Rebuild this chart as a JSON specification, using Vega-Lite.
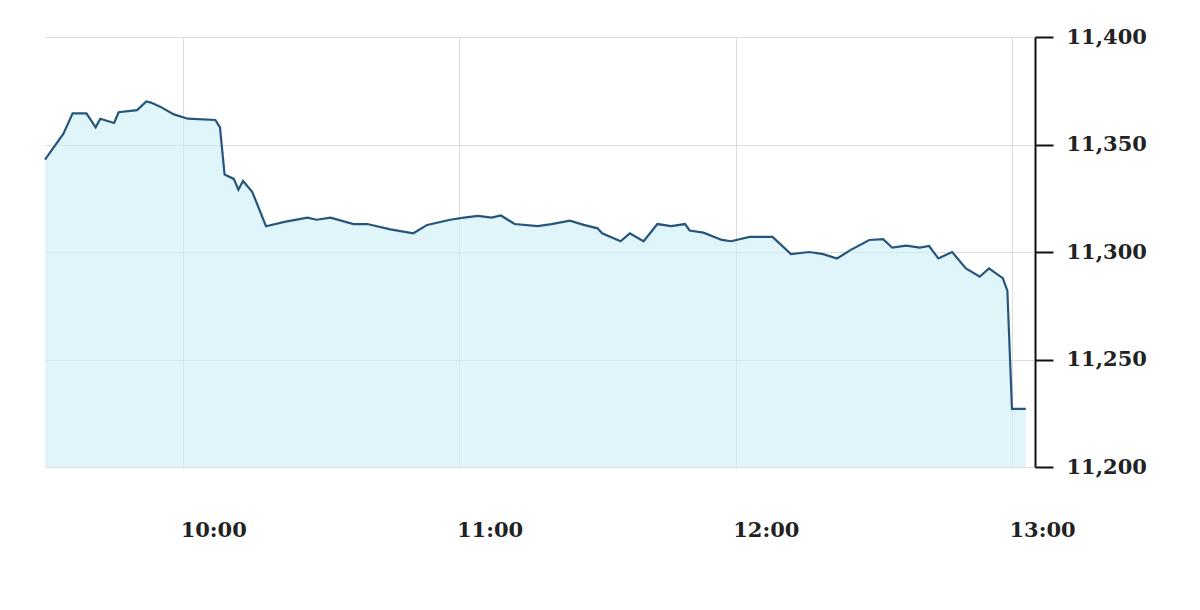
{
  "$schema": "https://vega.github.io/schema/vega-lite/v6.json",
  "autosize": "none",
  "width": 990,
  "height": 430,
  "padding": {"left": 45, "top": 37, "right": 165, "bottom": 143},
  "background": "white",
  "config": {"view": {"stroke": null}},
  "data": {"values": [
    {"t": "2020-01-01T09:30:00", "v": 11343},
    {"t": "2020-01-01T09:34:00", "v": 11355},
    {"t": "2020-01-01T09:36:00", "v": 11364.5},
    {"t": "2020-01-01T09:39:00", "v": 11364.5},
    {"t": "2020-01-01T09:41:00", "v": 11358},
    {"t": "2020-01-01T09:42:00", "v": 11362},
    {"t": "2020-01-01T09:45:00", "v": 11360},
    {"t": "2020-01-01T09:46:00", "v": 11365},
    {"t": "2020-01-01T09:50:00", "v": 11366},
    {"t": "2020-01-01T09:52:00", "v": 11370},
    {"t": "2020-01-01T09:53:00", "v": 11369.5},
    {"t": "2020-01-01T09:55:00", "v": 11367.6},
    {"t": "2020-01-01T09:58:00", "v": 11364},
    {"t": "2020-01-01T10:01:00", "v": 11362},
    {"t": "2020-01-01T10:07:00", "v": 11361.4},
    {"t": "2020-01-01T10:08:00", "v": 11358},
    {"t": "2020-01-01T10:09:00", "v": 11336},
    {"t": "2020-01-01T10:11:00", "v": 11334},
    {"t": "2020-01-01T10:12:00", "v": 11329},
    {"t": "2020-01-01T10:13:00", "v": 11333},
    {"t": "2020-01-01T10:15:00", "v": 11328},
    {"t": "2020-01-01T10:18:00", "v": 11312},
    {"t": "2020-01-01T10:22:00", "v": 11314},
    {"t": "2020-01-01T10:27:00", "v": 11316},
    {"t": "2020-01-01T10:29:00", "v": 11315},
    {"t": "2020-01-01T10:32:00", "v": 11316},
    {"t": "2020-01-01T10:37:00", "v": 11313},
    {"t": "2020-01-01T10:40:00", "v": 11313},
    {"t": "2020-01-01T10:45:00", "v": 11310.5},
    {"t": "2020-01-01T10:50:00", "v": 11308.7},
    {"t": "2020-01-01T10:53:00", "v": 11312.6},
    {"t": "2020-01-01T10:58:00", "v": 11315},
    {"t": "2020-01-01T11:01:00", "v": 11316},
    {"t": "2020-01-01T11:04:00", "v": 11316.8},
    {"t": "2020-01-01T11:07:00", "v": 11316},
    {"t": "2020-01-01T11:09:00", "v": 11317},
    {"t": "2020-01-01T11:12:00", "v": 11313},
    {"t": "2020-01-01T11:17:00", "v": 11312},
    {"t": "2020-01-01T11:20:00", "v": 11313},
    {"t": "2020-01-01T11:24:00", "v": 11314.6},
    {"t": "2020-01-01T11:27:00", "v": 11312.6},
    {"t": "2020-01-01T11:30:00", "v": 11311},
    {"t": "2020-01-01T11:31:00", "v": 11308.7},
    {"t": "2020-01-01T11:35:00", "v": 11305},
    {"t": "2020-01-01T11:37:00", "v": 11308.7},
    {"t": "2020-01-01T11:40:00", "v": 11305},
    {"t": "2020-01-01T11:43:00", "v": 11313},
    {"t": "2020-01-01T11:46:00", "v": 11312},
    {"t": "2020-01-01T11:49:00", "v": 11313},
    {"t": "2020-01-01T11:50:00", "v": 11310},
    {"t": "2020-01-01T11:53:00", "v": 11309},
    {"t": "2020-01-01T11:57:00", "v": 11305.6},
    {"t": "2020-01-01T11:59:00", "v": 11305},
    {"t": "2020-01-01T12:03:00", "v": 11307},
    {"t": "2020-01-01T12:08:00", "v": 11307},
    {"t": "2020-01-01T12:12:00", "v": 11299},
    {"t": "2020-01-01T12:16:00", "v": 11300},
    {"t": "2020-01-01T12:19:00", "v": 11299},
    {"t": "2020-01-01T12:22:00", "v": 11297},
    {"t": "2020-01-01T12:25:00", "v": 11301},
    {"t": "2020-01-01T12:29:00", "v": 11305.6},
    {"t": "2020-01-01T12:32:00", "v": 11306},
    {"t": "2020-01-01T12:34:00", "v": 11302},
    {"t": "2020-01-01T12:37:00", "v": 11303},
    {"t": "2020-01-01T12:40:00", "v": 11302},
    {"t": "2020-01-01T12:42:00", "v": 11302.8},
    {"t": "2020-01-01T12:44:00", "v": 11297},
    {"t": "2020-01-01T12:47:00", "v": 11300},
    {"t": "2020-01-01T12:50:00", "v": 11292.4},
    {"t": "2020-01-01T12:53:00", "v": 11288.5},
    {"t": "2020-01-01T12:55:00", "v": 11292.4},
    {"t": "2020-01-01T12:58:00", "v": 11287.8},
    {"t": "2020-01-01T12:59:00", "v": 11282},
    {"t": "2020-01-01T13:00:00", "v": 11227},
    {"t": "2020-01-01T13:03:00", "v": 11227}
  ]},
  "mark": {
    "type": "area",
    "color": "#cbeef7",
    "fillOpacity": 0.6,
    "line": {"color": "#26557c", "strokeWidth": 2.2}
  },
  "encoding": {
    "x": {
      "field": "t",
      "type": "temporal",
      "scale": {
        "domain": [
          {"year": 2020, "month": 1, "date": 1, "hours": 9, "minutes": 30},
          {"year": 2020, "month": 1, "date": 1, "hours": 13, "minutes": 5}
        ]
      },
      "axis": {
        "title": null,
        "format": "%H:%M",
        "values": [
          {"year": 2020, "month": 1, "date": 1, "hours": 10},
          {"year": 2020, "month": 1, "date": 1, "hours": 11},
          {"year": 2020, "month": 1, "date": 1, "hours": 12},
          {"year": 2020, "month": 1, "date": 1, "hours": 13}
        ],
        "domain": false,
        "ticks": false,
        "grid": true,
        "gridColor": "#dddddd",
        "gridWidth": 1,
        "labelFont": "DejaVu Serif",
        "labelFontWeight": "bold",
        "labelFontSize": 21,
        "labelColor": "#222222",
        "labelAlign": "left",
        "labelOffset": -3,
        "labelPadding": 52
      }
    },
    "y": {
      "field": "v",
      "type": "quantitative",
      "scale": {"domain": [11200, 11400], "zero": false, "nice": false},
      "axis": {
        "title": null,
        "orient": "right",
        "values": [11200, 11250, 11300, 11350, 11400],
        "format": ",.0f",
        "domain": true,
        "domainColor": "#111111",
        "domainWidth": 2,
        "ticks": true,
        "tickColor": "#111111",
        "tickWidth": 2,
        "tickSize": 18,
        "grid": true,
        "gridColor": "#dddddd",
        "gridWidth": 1,
        "labelFont": "DejaVu Serif",
        "labelFontWeight": "bold",
        "labelFontSize": 21,
        "labelColor": "#222222",
        "labelPadding": 13
      }
    },
    "y2": {"datum": 11200}
  }
}
